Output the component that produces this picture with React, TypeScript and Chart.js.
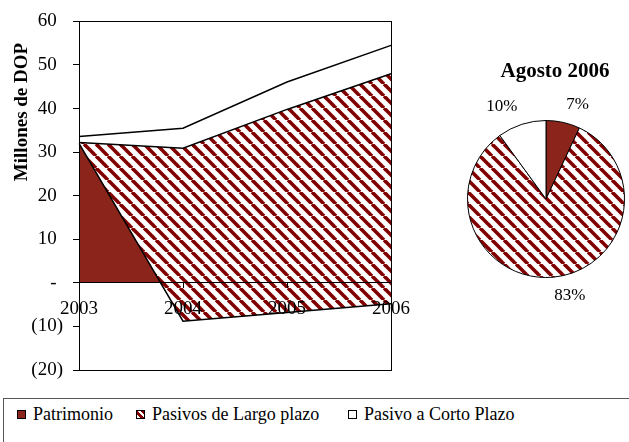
import React, { useEffect, useRef } from 'react';
import { Chart, registerables } from 'chart.js';

Chart.register(...registerables);

// ---- data ----
const years = ['2003', '2004', '2005', '2006'];
const patrimonio = [32, -8.8, -6.8, -4.8];
const pasivosLargo = [0.2, 39.7, 46.6, 52.8];
const pasivoCorto = [1.4, 4.6, 6.3, 6.5];
const seriesNames = ['Patrimonio', 'Pasivos de Largo plazo', 'Pasivo a Corto Plazo'];
const yMin = -20;
const yMax = 60;
const yStep = 10;
const yAxisTitle = 'Millones de DOP';
const pieTitle = 'Agosto 2006';
const pieValues = [7, 83, 10];

// ---- styles ----
const SERIF = '"Liberation Serif", "Times New Roman", serif';
const RED = '#8B251C';
const STRIPE = '#800000';

function makeHatch(ctx: CanvasRenderingContext2D) {
  const s = 12;
  const c = document.createElement('canvas');
  c.width = s;
  c.height = s;
  const g = c.getContext('2d')!;
  g.fillStyle = '#ffffff';
  g.fillRect(0, 0, s, s);
  g.strokeStyle = STRIPE;
  g.lineWidth = 3.6;
  for (let k = -1; k <= 1; k++) {
    g.beginPath();
    g.moveTo(k * s, 0);
    g.lineTo(k * s + s, s);
    g.stroke();
  }
  return ctx.createPattern(c, 'repeat')!;
}

const boxPlugin = {
  id: 'boxAndTitle',
  afterDraw(chart: any) {
    const { ctx, chartArea } = chart;
    ctx.save();
    ctx.strokeStyle = '#000';
    ctx.lineWidth = 1;
    ctx.strokeRect(
      Math.round(chartArea.left) + 0.5,
      Math.round(chartArea.top) + 0.5,
      Math.round(chartArea.right - chartArea.left),
      Math.round(chartArea.bottom - chartArea.top)
    );
    ctx.fillStyle = '#000';
    ctx.font = `bold 19px ${SERIF}`;
    ctx.textAlign = 'center';
    ctx.textBaseline = 'alphabetic';
    ctx.translate(27, 112);
    ctx.rotate(-Math.PI / 2);
    ctx.fillText(yAxisTitle, 0, 0);
    ctx.restore();
  },
};

const pieTextPlugin = {
  id: 'pieText',
  afterDraw(chart: any) {
    const { ctx } = chart;
    const meta = chart.getDatasetMeta(0);
    const total = pieValues.reduce((a, b) => a + b, 0);
    ctx.save();
    ctx.fillStyle = '#000';
    ctx.font = `bold 21px ${SERIF}`;
    ctx.textAlign = 'center';
    ctx.textBaseline = 'alphabetic';
    const c0 = meta.data[0];
    ctx.fillText(pieTitle, c0.x + 9, 77);
    ctx.font = `17px ${SERIF}`;
    meta.data.forEach((arc: any, i: number) => {
      const p = arc.getProps(['x', 'y', 'startAngle', 'endAngle', 'outerRadius'], true);
      const mid = (p.startAngle + p.endAngle) / 2;
      const R = p.outerRadius + (Math.sin(mid) < 0 ? 14 : 10);
      const px = p.x + Math.cos(mid) * R;
      const py = p.y + Math.sin(mid) * R;
      ctx.textAlign = Math.cos(mid) >= 0 ? 'left' : 'right';
      ctx.textBaseline = Math.sin(mid) < 0 ? 'alphabetic' : 'top';
      ctx.fillText(Math.round((pieValues[i] / total) * 100) + '%', px, py);
    });
    ctx.restore();
  },
};

export default function App() {
  const areaRef = useRef<HTMLCanvasElement>(null);
  const pieRef = useRef<HTMLCanvasElement>(null);

  useEffect(() => {
    const actx = areaRef.current!.getContext('2d')!;
    const hatchA = makeHatch(actx);
    const area = new Chart(actx, {
      type: 'line',
      data: {
        labels: years,
        datasets: [
          {
            label: seriesNames[0],
            data: patrimonio,
            fill: { target: 'origin', above: RED, below: 'rgba(0,0,0,0)' },
            backgroundColor: RED,
            borderColor: '#000',
            borderWidth: 1.5,
            pointRadius: 0,
            tension: 0,
          },
          {
            label: seriesNames[1],
            data: pasivosLargo,
            fill: '-1',
            backgroundColor: hatchA,
            borderColor: '#000',
            borderWidth: 1.5,
            pointRadius: 0,
            tension: 0,
          },
          {
            label: seriesNames[2],
            data: pasivoCorto,
            fill: '-1',
            backgroundColor: '#ffffff',
            borderColor: '#000',
            borderWidth: 1.5,
            pointRadius: 0,
            tension: 0,
          },
        ],
      },
      options: {
        responsive: false,
        animation: false,
        events: [],
        layout: { padding: { left: 0, right: 29, top: 18, bottom: 25 } },
        plugins: {
          legend: { display: false },
          tooltip: { enabled: false },
          filler: { drawTime: 'beforeDatasetsDraw' },
        },
        scales: {
          x: {
            type: 'category',
            offset: false,
            position: { y: 0 },
            grid: { drawOnChartArea: false, drawTicks: true, tickLength: 5, color: '#000', z: 1 },
            border: { color: '#000', width: 1, z: 1 },
            ticks: {
              font: { family: SERIF, size: 19 },
              color: '#000',
              padding: 10,
              maxRotation: 0,
              autoSkip: false,
              z: 1,
            },
          },
          y: {
            stacked: 'single',
            min: yMin,
            max: yMax,
            grid: { drawOnChartArea: false, drawTicks: true, tickLength: 6, color: '#000' },
            border: { color: '#000', width: 1 },
            ticks: {
              stepSize: yStep,
              font: { family: SERIF, size: 19 },
              color: '#000',
              padding: 10,
              callback: (v: any) =>
                v === 0 ? '-\u2004' : v < 0 ? `(${-v})` : `${v}\u2004`,
            },
            afterFit: (s: any) => {
              s.width = 79;
            },
          },
        },
      } as any,
      plugins: [boxPlugin],
    });

    const pctx = pieRef.current!.getContext('2d')!;
    const hatchP = makeHatch(pctx);
    const pie = new Chart(pctx, {
      type: 'pie',
      data: {
        labels: seriesNames,
        datasets: [
          {
            data: pieValues,
            backgroundColor: [RED, hatchP, '#ffffff'],
            borderColor: '#000',
            borderWidth: 1,
          },
        ],
      },
      options: {
        responsive: false,
        animation: false,
        events: [],
        layout: { padding: { left: 47, right: 4, top: 120, bottom: 117 } },
        plugins: { legend: { display: false }, tooltip: { enabled: false } },
      } as any,
      plugins: [pieTextPlugin],
    });

    return () => {
      area.destroy();
      pie.destroy();
    };
  }, []);

  const legendLefts = [17, 136, 348];
  const markerBg = [
    RED,
    `repeating-linear-gradient(45deg, #ffffff 0px, #ffffff 2.5px, ${STRIPE} 2.5px, ${STRIPE} 5px)`,
    '#ffffff',
  ];

  return (
    <div
      style={{
        position: 'absolute',
        left: 0,
        top: 0,
        width: 629,
        height: 442,
        overflow: 'hidden',
        background: '#fff',
      }}
    >
      <canvas
        ref={areaRef}
        width={420}
        height={395}
        style={{ position: 'absolute', left: 0, top: 0, width: 420, height: 395 }}
      />
      <canvas
        ref={pieRef}
        width={209}
        height={395}
        style={{ position: 'absolute', left: 420, top: 0, width: 209, height: 395 }}
      />
      <div
        style={{
          position: 'absolute',
          left: 3,
          top: 398,
          width: 660,
          height: 80,
          border: '1px solid #555',
          boxSizing: 'border-box',
        }}
      />
      {seriesNames.map((name, i) => (
        <React.Fragment key={name}>
          <div
            style={{
              position: 'absolute',
              left: legendLefts[i],
              top: 410,
              width: 9,
              height: 9,
              border: '1px solid #000',
              boxSizing: 'border-box',
              background: markerBg[i],
            }}
          />
          <span
            style={{
              position: 'absolute',
              left: legendLefts[i] + 16,
              top: 405,
              fontFamily: SERIF,
              fontSize: 18,
              lineHeight: '18px',
              color: '#000',
              whiteSpace: 'nowrap',
            }}
          >
            {name}
          </span>
        </React.Fragment>
      ))}
    </div>
  );
}
